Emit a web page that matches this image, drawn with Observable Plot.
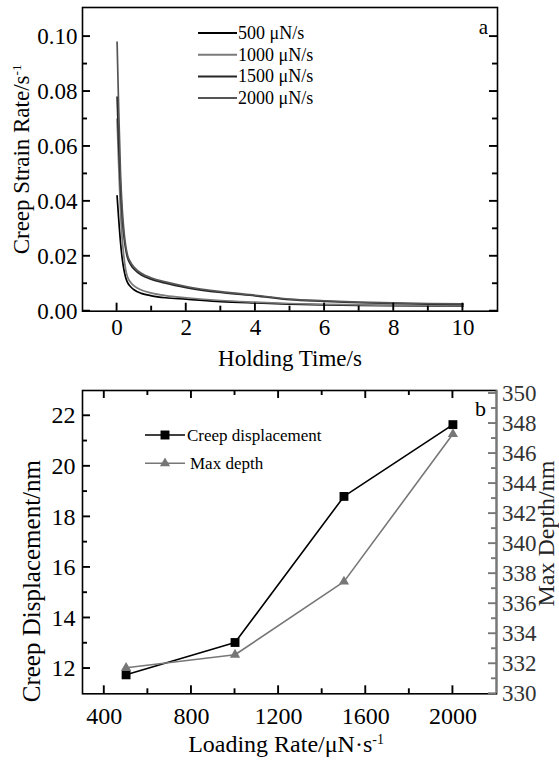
<!DOCTYPE html>
<html><head><meta charset="utf-8">
<script src="https://cdn.jsdelivr.net/npm/d3@7"></script>
<script src="https://cdn.jsdelivr.net/npm/@observablehq/plot@0.6"></script>
<style>
html,body{margin:0;padding:0;background:#fff;}
#wrap{position:relative;width:559px;height:762px;overflow:hidden;background:#fff;}
#wrap > svg{position:absolute;left:0;}
#wrap text, #wrap tspan{font-family:"Liberation Serif", serif !important;}
</style></head><body><div id="wrap"></div>
<script>
const FONT = "Liberation Serif";

// ---------- Panel a data ----------
const holdingTime = [0, 0.05, 0.1, 0.15, 0.2, 0.25, 0.3, 0.4, 0.5, 0.7, 1, 1.4, 2, 3, 4, 5, 6, 7, 8, 9, 10];
const strain500  = [0.042, 0.033, 0.025, 0.019, 0.0150, 0.0122, 0.0105, 0.0088, 0.0077, 0.0065, 0.0056, 0.0049, 0.0044, 0.0035, 0.0030, 0.0026, 0.0023, 0.0021, 0.0020, 0.0019, 0.0018];
const strain1000 = [0.070, 0.052, 0.036, 0.026, 0.0195, 0.0150, 0.0125, 0.0104, 0.0091, 0.0077, 0.0066, 0.0057, 0.0049, 0.0039, 0.0033, 0.0028, 0.0025, 0.0023, 0.0021, 0.0020, 0.0019];
const strain1500 = [0.078, 0.060, 0.045, 0.034, 0.027, 0.0225, 0.0195, 0.0168, 0.0152, 0.0132, 0.0116, 0.0102, 0.0086, 0.0068, 0.0056, 0.0042, 0.0036, 0.0031, 0.0028, 0.0026, 0.0025];
const strain2000 = [0.098, 0.072, 0.050, 0.037, 0.029, 0.0238, 0.0205, 0.0176, 0.0159, 0.0138, 0.0121, 0.0107, 0.0090, 0.0071, 0.0058, 0.0044, 0.0038, 0.0033, 0.0030, 0.0028, 0.0027];
const rateLabels = ["500 μN/s", "1000 μN/s", "1500 μN/s", "2000 μN/s"];
const xDomainA = [-1, 11];
const yDomainA = [0, 0.1106];
const xTicksA = [0, 2, 4, 6, 8, 10];
const xMinorA = [1, 3, 5, 7, 9];
const yTicksA = [0, 0.02, 0.04, 0.06, 0.08, 0.10];
const yMinorA = [0.01, 0.03, 0.05, 0.07, 0.09];

// ---------- Panel b data ----------
const loadingRate = [500, 1000, 1500, 2000];
const creepDisp = [11.75, 13.03, 18.81, 21.65];
const maxDepth = [331.73, 332.6, 337.47, 347.3];
const seriesB = ["Creep displacement", "Max depth"];
const xDomainB = [300, 2200];
const yDomainB = [11, 23];
const depthDomain = [330, 350.2];
const xTicksB = [400, 800, 1200, 1600, 2000];
const xMinorB = [600, 1000, 1400, 1800];
const yTicksB = [12, 14, 16, 18, 20, 22];
const yMinorB = [13, 15, 17, 19, 21];
const depthTicks = [330, 332, 334, 336, 338, 340, 342, 344, 346, 348, 350];
const depthMinor = [331, 333, 335, 337, 339, 341, 343, 345, 347, 349];

// styles
const colorsA = ["#000000", "#7a7a7a", "#262626", "#555555"];
const GRAY = "#777777";

const base = {fontFamily: "Liberation Serif, serif", background: "transparent", overflow: "visible", color: "black"};

// ---------- Panel a ----------
const A = {w: 559, h: 380, ml: 82, mr: 62, mt: 7, mb: 69.3};
const strains = [strain500, strain1000, strain1500, strain2000];
const svgA = Plot.plot({
  width: A.w, height: A.h,
  marginLeft: A.ml, marginRight: A.mr, marginTop: A.mt, marginBottom: A.mb,
  x: {domain: xDomainA, axis: null},
  y: {domain: yDomainA, axis: null},
  style: base,
  marks: [
    ...strains.map((s, k) => Plot.line(s, {x: (d, i) => holdingTime[i], y: d => d, stroke: colorsA[k], strokeWidth: 1.7, curve: "monotone-x"})),
    Plot.frame({stroke: "black", strokeWidth: 1.6}),
    Plot.axisX(xTicksA, {anchor: "bottom", tickSize: 0, tickPadding: 7.5, label: null, fontSize: 23, fontFamily: FONT, fill: "black", tickFormat: d3.format("d")}),
    Plot.axisY(yTicksA, {anchor: "left", tickSize: 0, tickPadding: 5, tickFormat: d3.format(".2f"), label: null, fontSize: 23, fontFamily: FONT, fill: "black"}),
    Plot.text(["Holding Time/s"], {text: d => d, frameAnchor: "bottom", dy: 54.3, lineAnchor: "bottom", textAnchor: "middle", fontSize: 23, fontFamily: FONT, fill: "black"}),
    Plot.text(["Creep Strain Rate/s"], {text: d => d, frameAnchor: "left", dx: -54, rotate: -90, lineAnchor: "bottom", textAnchor: "middle", fontSize: 23, fontFamily: FONT, fill: "black"}),
    Plot.text(["a"], {text: d => d, frameAnchor: "top-right", dx: -14, dy: 26, lineAnchor: "bottom", textAnchor: "middle", fontSize: 21, fontFamily: FONT, fill: "black"})
  ]
});
svgA.style.top = "0px";

// ---------- Panel b (left axis) ----------
const B = {w: 559, h: 382, ml: 82, mr: 63, mt: 10, mb: 68.7};
const svgB = Plot.plot({
  width: B.w, height: B.h,
  marginLeft: B.ml, marginRight: B.mr, marginTop: B.mt, marginBottom: B.mb,
  x: {domain: xDomainB, axis: null},
  y: {domain: yDomainB, axis: null},
  style: base,
  marks: [
    Plot.frame({stroke: "black", strokeWidth: 1.6}),
    Plot.line(creepDisp, {x: (d, i) => loadingRate[i], y: d => d, stroke: "black", strokeWidth: 1.6}),
    Plot.dot(creepDisp, {x: (d, i) => loadingRate[i], y: d => d, symbol: "square", r: 5, fill: "black", stroke: "none"}),
    Plot.axisX(xTicksB, {anchor: "bottom", tickSize: 0, tickPadding: 12.7, label: null, fontSize: 24, fontFamily: FONT, fill: "black", tickFormat: d3.format("d")}),
    Plot.axisY(yTicksB, {anchor: "left", tickSize: 0, tickPadding: 7, label: null, fontSize: 24, fontFamily: FONT, fill: "black", tickFormat: d3.format("d")}),
    Plot.text(["Loading Rate/μN·s"], {text: d => d, frameAnchor: "bottom", dx: -3.5, dy: 57.7, lineAnchor: "bottom", textAnchor: "middle", fontSize: 24, fontFamily: FONT, fill: "black"}),
    Plot.text(["Creep Displacement/nm"], {text: d => d, frameAnchor: "left", dx: -43, dy: 39, rotate: -90, lineAnchor: "bottom", textAnchor: "middle", fontSize: 25, fontFamily: FONT, fill: "black"}),
    Plot.text(["b"], {text: d => d, frameAnchor: "top-right", dx: -16, dy: 25, lineAnchor: "bottom", textAnchor: "middle", fontSize: 22, fontFamily: FONT, fill: "black"})
  ]
});
svgB.style.top = "380px";

// ---------- Panel b (right axis overlay) ----------
const svgC = Plot.plot({
  width: B.w, height: B.h,
  marginLeft: B.ml, marginRight: B.mr, marginTop: B.mt, marginBottom: B.mb,
  x: {domain: xDomainB, axis: null},
  y: {domain: depthDomain, axis: null},
  style: base,
  marks: [
    Plot.ruleX([xDomainB[1]], {stroke: GRAY, strokeWidth: 1.8}),
    Plot.line(maxDepth, {x: (d, i) => loadingRate[i], y: d => d, stroke: GRAY, strokeWidth: 1.6}),
    Plot.dot(maxDepth, {x: (d, i) => loadingRate[i], y: d => d, symbol: "triangle", r: 3.8, fill: GRAY, stroke: "none"}),
    Plot.axisY(depthTicks, {anchor: "right", tickSize: 0, tickPadding: 5.5, label: null, fontSize: 23, fontFamily: FONT, fill: "#333", tickFormat: d3.format("d")}),
    Plot.text(["Max Depth/nm"], {text: d => d, frameAnchor: "right", dx: 57, dy: -8.6, rotate: -90, lineAnchor: "bottom", textAnchor: "middle", fontSize: 24, fontFamily: FONT, fill: "#222"})
  ]
});
svgC.style.top = "380px";

const wrap = document.getElementById("wrap");
wrap.append(svgA, svgB, svgC);

// inward tick marks, positioned through each plot's own scales
function drawTicks(svg, dims, axis, values, side, len, stroke = "black") {
  const sc = svg.scale(axis);
  const L = dims.ml, R = dims.w - dims.mr, T = dims.mt, Bt = dims.h - dims.mb;
  const g = d3.select(svg).append("g").attr("stroke", stroke).attr("stroke-width", 1.9);
  values.forEach(v => {
    const p = sc.apply(v);
    let x1, x2, y1, y2;
    if (side === "bottom") { x1 = x2 = p; y1 = Bt; y2 = Bt - len; }
    else if (side === "top") { x1 = x2 = p; y1 = T; y2 = T + len; }
    else if (side === "left") { y1 = y2 = p; x1 = L; x2 = L + len; }
    else { y1 = y2 = p; x1 = R; x2 = R - len; }
    g.append("line").attr("x1", x1).attr("x2", x2).attr("y1", y1).attr("y2", y2);
  });
}
drawTicks(svgA, A, "x", xTicksA, "bottom", 8);
drawTicks(svgA, A, "x", xMinorA, "bottom", 5);
drawTicks(svgA, A, "y", yTicksA, "left", 8);
drawTicks(svgA, A, "y", yMinorA, "left", 5);
drawTicks(svgA, A, "y", yTicksA, "right", 8);
drawTicks(svgA, A, "y", yMinorA, "right", 5);
drawTicks(svgB, B, "x", xTicksB, "bottom", 8);
drawTicks(svgB, B, "x", xMinorB, "bottom", 5);
drawTicks(svgB, B, "x", xTicksB, "top", 8);
drawTicks(svgB, B, "x", xMinorB, "top", 5);
drawTicks(svgB, B, "y", yTicksB, "left", 8);
drawTicks(svgB, B, "y", yMinorB, "left", 5);
drawTicks(svgC, B, "y", depthTicks, "right", 8, GRAY);
drawTicks(svgC, B, "y", depthMinor, "right", 5, GRAY);

// superscripts
function addSup(svg, label, sup) {
  d3.select(svg).selectAll("text").filter(function () { return this.textContent === label; })
    .append("tspan").attr("dy", "-0.55em").attr("font-size", "0.58em").text(sup);
}
addSup(svgA, "Creep Strain Rate/s", "-1");
addSup(svgB, "Loading Rate/μN·s", "-1");

// legend panel a
const legA = d3.select(svgA).append("g").attr("font-family", FONT).attr("font-size", 18).attr("text-anchor", "start");
rateLabels.forEach((lab, i) => {
  const y = 33 + 21.7 * i;
  legA.append("line").attr("x1", 198).attr("x2", 237).attr("y1", y).attr("y2", y)
    .attr("stroke", colorsA[i]).attr("stroke-width", 2);
  legA.append("text").attr("x", 238).attr("y", y + 6).attr("fill", "black").text(lab);
});

// legend panel b
const legB = d3.select(svgC).append("g").attr("font-family", FONT).attr("font-size", 17).attr("text-anchor", "start");
[{c: "black", sym: "square", y: 55, tx: 187}, {c: GRAY, sym: "triangle", y: 83.3, tx: 190}].forEach((s, i) => {
  legB.append("line").attr("x1", 145).attr("x2", 185).attr("y1", s.y).attr("y2", s.y)
    .attr("stroke", s.c).attr("stroke-width", 1.6);
  const path = s.sym === "square" ? d3.symbol(d3.symbolSquare, 80)() : d3.symbol(d3.symbolTriangle, 45)();
  legB.append("path").attr("d", path).attr("transform", `translate(165,${s.y})`).attr("fill", s.c);
  legB.append("text").attr("x", s.tx).attr("y", s.y + 6).attr("fill", "black").text(seriesB[i]);
});
</script>
</body></html>
